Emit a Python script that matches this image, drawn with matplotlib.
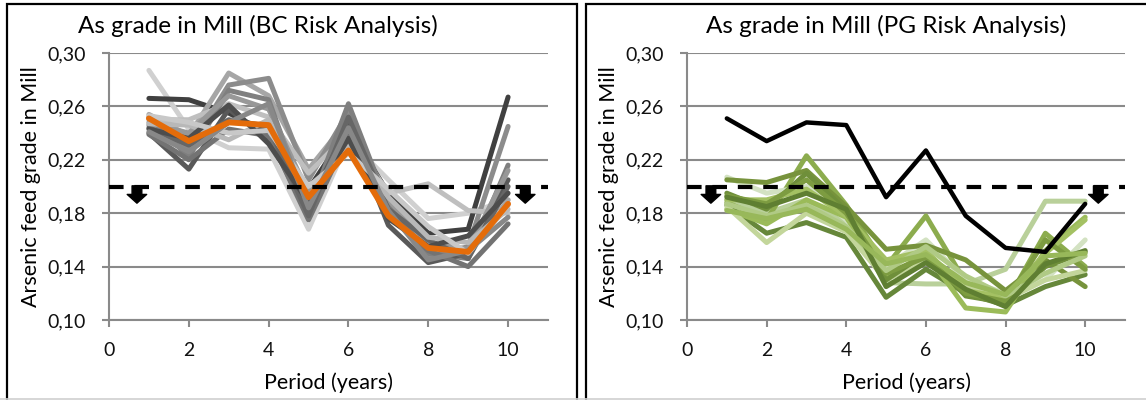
import matplotlib
matplotlib.use("Agg")
import matplotlib.pyplot as plt
from matplotlib.lines import Line2D
from matplotlib.patches import Rectangle
from matplotlib.ticker import FuncFormatter

plt.rcParams["font.family"] = ["Lato", "DejaVu Sans"]

periods = [1, 2, 3, 4, 5, 6, 7, 8, 9, 10]
limit = 0.20

# BC risk analysis scenarios (gray) and their mean (orange)
bc_colors = ["#d0d0d0", "#404040", "#a6a6a6", "#8c8c8c", "#bfbfbf", "#7f7f7f", "#595959",
             "#737373", "#989898", "#666666", "#b8b8b8", "#4d4d4d", "#c8c8c8", "#888888"]
bc_runs = [
    [0.287, 0.243, 0.229, 0.228, 0.168, 0.235, 0.205, 0.176, 0.180, 0.190],
    [0.266, 0.265, 0.255, 0.240, 0.198, 0.243, 0.195, 0.165, 0.168, 0.267],
    [0.254, 0.238, 0.285, 0.268, 0.213, 0.250, 0.188, 0.152, 0.150, 0.190],
    [0.246, 0.228, 0.276, 0.281, 0.205, 0.256, 0.186, 0.147, 0.155, 0.245],
    [0.250, 0.250, 0.262, 0.252, 0.210, 0.240, 0.195, 0.202, 0.182, 0.180],
    [0.252, 0.222, 0.272, 0.265, 0.182, 0.262, 0.185, 0.150, 0.146, 0.216],
    [0.240, 0.213, 0.258, 0.235, 0.186, 0.246, 0.171, 0.143, 0.150, 0.205],
    [0.239, 0.220, 0.243, 0.238, 0.175, 0.238, 0.180, 0.152, 0.140, 0.172],
    [0.248, 0.240, 0.268, 0.258, 0.195, 0.228, 0.190, 0.158, 0.153, 0.212],
    [0.244, 0.231, 0.250, 0.245, 0.178, 0.252, 0.183, 0.160, 0.146, 0.200],
    [0.247, 0.246, 0.235, 0.250, 0.192, 0.232, 0.192, 0.162, 0.158, 0.183],
    [0.243, 0.236, 0.261, 0.232, 0.188, 0.236, 0.176, 0.155, 0.163, 0.195],
    [0.253, 0.248, 0.240, 0.242, 0.200, 0.225, 0.198, 0.170, 0.150, 0.186],
    [0.241, 0.226, 0.248, 0.262, 0.184, 0.244, 0.182, 0.145, 0.152, 0.177],
]
bc_mean = [0.251, 0.234, 0.248, 0.246, 0.192, 0.227, 0.178, 0.154, 0.151, 0.187]

# PG risk analysis scenarios (green)
pg_colors = ["#b9d09a", "#8cac4e", "#66873a", "#d3e2c2", "#77933c", "#9bbb59", "#c3d69b",
             "#6f8f3a", "#a4c163", "#7d9c41", "#b0ca85", "#5f7f32", "#98b85a"]
pg_runs = [
    [0.190, 0.180, 0.190, 0.172, 0.128, 0.127, 0.127, 0.138, 0.189, 0.189],
    [0.188, 0.175, 0.223, 0.186, 0.140, 0.178, 0.128, 0.112, 0.165, 0.140],
    [0.186, 0.165, 0.173, 0.162, 0.117, 0.138, 0.120, 0.111, 0.125, 0.134],
    [0.207, 0.195, 0.200, 0.175, 0.140, 0.160, 0.130, 0.120, 0.130, 0.160],
    [0.205, 0.203, 0.212, 0.185, 0.153, 0.156, 0.145, 0.122, 0.145, 0.125],
    [0.183, 0.172, 0.190, 0.177, 0.132, 0.150, 0.109, 0.106, 0.152, 0.177],
    [0.185, 0.158, 0.180, 0.166, 0.130, 0.145, 0.125, 0.115, 0.130, 0.137],
    [0.195, 0.183, 0.210, 0.182, 0.130, 0.150, 0.118, 0.113, 0.140, 0.151],
    [0.190, 0.190, 0.198, 0.178, 0.145, 0.152, 0.122, 0.117, 0.150, 0.175],
    [0.193, 0.187, 0.205, 0.180, 0.135, 0.147, 0.120, 0.114, 0.160, 0.138],
    [0.187, 0.178, 0.186, 0.170, 0.137, 0.155, 0.133, 0.118, 0.135, 0.148],
    [0.192, 0.185, 0.195, 0.183, 0.125, 0.143, 0.123, 0.110, 0.142, 0.152],
    [0.182, 0.176, 0.183, 0.168, 0.142, 0.149, 0.128, 0.119, 0.148, 0.150],
]

titles = ["As grade in Mill (BC Risk Analysis)", "As grade in Mill (PG Risk Analysis)"]
yticks = [0.10, 0.14, 0.18, 0.22, 0.26, 0.30]
xticks = [0, 2, 4, 6, 8, 10]
arrow_x = [[0.7, 10.43], [0.6, 10.33]]

W, H = 1146, 400
fig = plt.figure(figsize=(W / 100, H / 100), dpi=100)

axis_gray = "#8a8a8a"


def style_axes(ax, title, title_x, arrows):
    ax.set_xlim(0, 11)
    ax.set_ylim(0.10, 0.30)
    ax.set_xticks(xticks)
    ax.set_yticks(yticks)
    ax.yaxis.set_major_formatter(FuncFormatter(lambda v, p: f"{v:.2f}".replace(".", ",")))
    ax.grid(axis="y", color=axis_gray, linewidth=1.5)
    ax.set_axisbelow(True)
    for s in ["top", "right"]:
        ax.spines[s].set_visible(False)
    for s in ["left", "bottom"]:
        ax.spines[s].set_color(axis_gray)
        ax.spines[s].set_linewidth(1.5)
    ax.tick_params(axis="both", colors=axis_gray, labelcolor="#111111",
                   labelsize=14, length=5, width=1.5, direction="out")
    ax.tick_params(axis="y", pad=12)
    ax.tick_params(axis="x", pad=11)
    ax.set_xlabel("Period (years)", fontsize=15.5, va="center")
    ax.set_ylabel("Arsenic feed grade in Mill", fontsize=15.5, va="center")
    ax.xaxis.set_label_coords(0.5, -63 / 267)
    ax.yaxis.set_label_coords(-78 / 439, 0.5)
    fig.text(title_x / W, 1 - 26 / H, title, fontsize=17.5, ha="center", va="center")
    # limit line and arrows
    ax.plot([0, 11], [limit, limit], color="black", linewidth=3, linestyle=(0, (3.5, 2.6)),
            zorder=6, clip_on=False)
    for xa in arrows:
        ax.annotate("", xy=(xa, 0.1875), xytext=(xa, 0.2005),
                    arrowprops=dict(arrowstyle="simple,head_length=0.45,head_width=1.0,tail_width=0.5",
                                    color="black", mutation_scale=14, shrinkA=0, shrinkB=0),
                    zorder=7)


ax1 = fig.add_axes([109 / W, 80 / H, 439 / W, 267 / H])
for vals, c in zip(bc_runs, bc_colors):
    ax1.plot(periods, vals, color=c, linewidth=3.6, solid_capstyle="round", zorder=3)
ax1.plot(periods, bc_mean, color="#e46c0a", linewidth=4.2, solid_capstyle="round", zorder=5)
style_axes(ax1, titles[0], 258, arrow_x[0])

ax2 = fig.add_axes([687 / W, 80 / H, 438 / W, 267 / H])
for vals, c in zip(pg_runs, pg_colors):
    ax2.plot(periods, vals, color=c, linewidth=3.6, solid_capstyle="round", zorder=3)
ax2.plot(periods, bc_mean, color="black", linewidth=3.2, solid_capstyle="round", zorder=5)
style_axes(ax2, titles[1], 886, arrow_x[1])

# panel frames
for x0, x1 in [(7, 577), (586, W + 10)]:
    fig.add_artist(Rectangle((x0 / W, -0.05), (x1 - x0) / W, (H - 4) / H + 0.05,
                             transform=fig.transFigure, fill=False, edgecolor="black",
                             linewidth=1.6))
fig.add_artist(Line2D([0, 1], [0.6 / H, 0.6 / H], transform=fig.transFigure,
                      color="#d0d0d0", linewidth=1.2))

fig.savefig("out.png", dpi=100)
